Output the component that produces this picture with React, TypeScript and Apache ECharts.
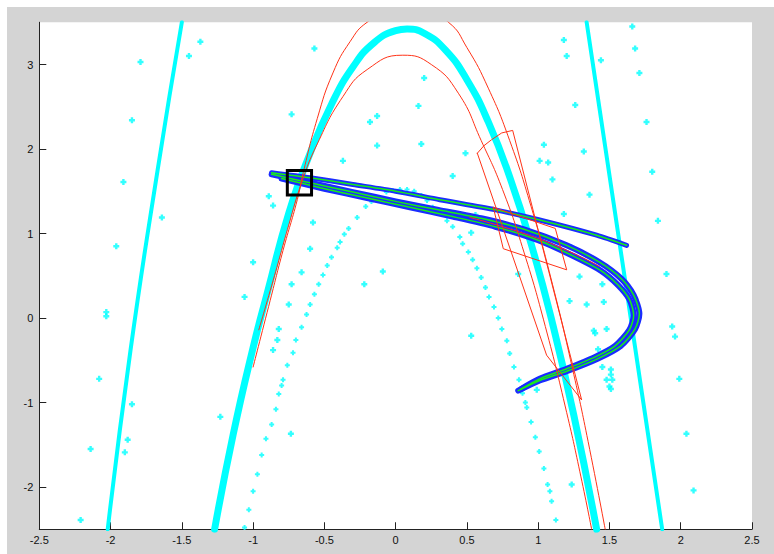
import React, { useEffect, useRef } from "react";
import * as echarts from "echarts";

// ---- data ----
const xTickValues = [-2.5, -2, -1.5, -1, -0.5, 0, 0.5, 1, 1.5, 2, 2.5];
const yTickValues = [-2, -1, 0, 1, 2, 3];

// thick cyan arch (dense '+' markers)
const cyanArchX = [-1.27, -1.14, -1.0, -0.9, -0.75, -0.6, -0.45, -0.3, -0.15, 0.0, 0.08, 0.2, 0.35, 0.5, 0.65, 0.8, 0.95, 1.1, 1.25, 1.41];
const cyanArchY = [-2.5, -1.38, -0.35, 0.3, 1.24, 1.95, 2.53, 2.97, 3.26, 3.4, 3.42, 3.37, 3.17, 2.82, 2.32, 1.67, 0.88, -0.06, -1.15, -2.5];

// red outer arch
const redOuterX = [-1.0, -0.88, -0.79, -0.69, -0.65, -0.55, -0.44, -0.32, -0.2, 0.085, 0.37, 0.5, 0.65, 0.8, 0.95, 1.1, 1.25, 1.35, 1.47];
const redOuterY = [-0.58, 0.21, 0.8, 1.4, 1.71, 2.36, 2.9, 3.27, 3.5, 3.77, 3.5, 3.2, 2.72, 2.1, 1.32, 0.4, -0.67, -1.46, -2.5];

// red inner arch
const redInnerX = [-0.96, -0.85, -0.75, -0.66, -0.55, -0.37, -0.2, 0.05, 0.25, 0.44, 0.6, 0.75, 0.9, 1.05, 1.2, 1.3, 1.375];
const redInnerY = [-0.14, 0.5, 1.1, 1.6, 2.06, 2.62, 2.94, 3.11, 3.0, 2.66, 2.1, 1.52, 0.78, -0.1, -1.12, -1.88, -2.5];

// cyan straight-ish marker lines
const leftLineX = [-2.02, -1.86, -1.67, -1.5];
const leftLineY = [-2.5, -0.38, 1.75, 3.5];
const rightLineX = [1.34, 1.87];
const rightLineY = [3.5, -2.5];

// sparse dotted cyan arch
const dotArcX = [-1.06, -1.03, -1.0, -0.97, -0.94, -0.91, -0.87, -0.84, -0.82, -0.8, -0.79, -0.76, -0.72, -0.7, -0.66, -0.625, -0.6, -0.57, -0.54, -0.51, -0.48, -0.45, -0.41, -0.39, -0.36, -0.33, -0.27, -0.21, -0.17, -0.12, -0.065, -0.02, 0.03, 0.08, 0.13, 0.18, 0.22, 0.26, 0.31, 0.36, 0.4, 0.45, 0.47, 0.51, 0.54, 0.57, 0.6, 0.63, 0.655, 0.69, 0.72, 0.745, 0.78, 0.8, 0.83, 0.865, 0.89, 0.91, 0.92, 0.95, 0.98, 1.007, 1.04, 1.066, 1.082, 1.094, 1.124];
const dotArcY = [-2.48, -2.27, -2.05, -1.85, -1.62, -1.43, -1.26, -1.08, -0.9, -0.8, -0.73, -0.56, -0.41, -0.26, -0.11, 0.04, 0.16, 0.28, 0.4, 0.51, 0.62, 0.72, 0.83, 0.9, 0.99, 1.06, 1.19, 1.32, 1.38, 1.42, 1.49, 1.51, 1.52, 1.52, 1.5, 1.45, 1.39, 1.31, 1.24, 1.15, 1.08, 0.96, 0.88, 0.78, 0.69, 0.59, 0.48, 0.36, 0.25, 0.13, 0.0, -0.13, -0.27, -0.42, -0.58, -0.73, -0.89, -1.0, -1.06, -1.23, -1.41, -1.58, -1.78, -1.97, -2.05, -2.17, -2.39];

// scattered cyan points
const scatterX = [-1.37, -1.45, -1.79, -1.85, -1.91, -1.64, -1.96, -2.03, -2.03, -2.08, -1.85, -1.88, -1.9, -2.14, -2.21, -1.23, -1.0, -1.06, -0.86, -0.89, -0.73, -0.57, -0.58, -0.6, -0.66, -0.73, -0.75, -0.82, -0.83, -0.86, -0.735, -0.09, -0.22, 0.2, 0.16, -0.13, -0.18, -0.13, 0.18, -0.37, 0.4, 0.49, 1.04, 1.32, 1.01, 1.07, 1.1, 1.36, 1.76, 1.8, 1.84, 1.18, 1.23, 0.86, 1.29, 1.45, 0.56, 0.53, 1.9, 1.22, 1.34, 1.46, 1.39, 1.4, 1.48, 0.53, 1.42, 1.45, 1.51, 1.51, 1.48, 1.52, 1.5, 1.51, 1.94, 1.96, 1.99, 0.99, 1.18, 1.2, 1.66, 1.68, 1.44, 1.71, 1.26, 1.235, 2.09, 2.04];
const scatterY = [3.27, 3.1, 3.03, 2.34, 1.61, 1.19, 0.85, 0.07, 0.02, -0.72, -1.02, -1.44, -1.59, -1.55, -2.39, -1.17, 0.66, 0.25, 1.33, 1.44, 2.41, 3.19, 1.13, 0.82, 0.54, 0.4, 0.16, -0.13, -0.26, -0.38, -1.37, 0.55, 0.4, 2.84, 2.51, 2.39, 2.32, 2.04, 2.06, 1.86, 1.68, 1.95, 2.05, 1.97, 1.86, 1.84, 1.64, 1.46, 2.32, 1.73, 1.15, 1.23, 0.84, 0.52, 0.49, 0.4, 1.22, 1.01, 0.52, 0.2, 0.16, 0.19, -0.15, -0.18, -0.13, -0.21, -0.37, -0.58, -0.61, -0.67, -0.73, -0.73, -0.81, -0.84, -0.1, -0.22, -0.72, -0.85, 3.29, 3.1, 3.45, 3.19, 3.05, 2.9, 2.52, -1.97, -2.04, -1.37];

// blue/green band strands
const bandUpperX = [-0.87, -0.6, -0.3, 0.0, 0.31, 0.7, 1.01, 1.41, 1.62];
const bandUpperY = [1.72, 1.66, 1.58, 1.5, 1.4, 1.28, 1.16, 0.98, 0.86];
const bandLowerAX = [-0.87, -0.6, -0.3, 0.0, 0.3, 0.6, 0.9, 1.2, 1.43, 1.58, 1.67, 1.71, 1.68, 1.58, 1.42, 1.2, 1.01, 0.86];
const bandLowerAY = [1.7, 1.6, 1.49, 1.38, 1.28, 1.18, 1.05, 0.86, 0.66, 0.47, 0.27, 0.05, -0.13, -0.33, -0.48, -0.63, -0.74, -0.86];
const bandLowerBX = [-0.8, -0.5, -0.2, 0.1, 0.4, 0.7, 1.0, 1.25, 1.44, 1.56, 1.64, 1.67, 1.64, 1.54, 1.4, 1.2, 1.01, 0.88];
const bandLowerBY = [1.65, 1.53, 1.42, 1.31, 1.2, 1.08, 0.92, 0.73, 0.56, 0.39, 0.22, 0.03, -0.14, -0.33, -0.46, -0.6, -0.72, -0.84];

// thin red line inside the lower band
const redBandX = [0.52, 0.9, 1.2, 1.43];
const redBandY = [1.19, 1.0, 0.8, 0.61];

// red polygons
const polyAX = [0.573, 0.62, 0.673, 0.744, 0.821, 1.305, 1.059, 0.573];
const polyAY = [1.95, 2.04, 2.11, 2.19, 2.22, -0.97, -0.44, 1.95];
const polyBX = [0.685, 1.12, 1.2, 0.755, 0.685];
const polyBY = [1.31, 1.06, 0.57, 0.82, 1.31];

// black square
const boxX = [-0.76, -0.59, -0.59, -0.76, -0.76];
const boxY = [1.455, 1.455, 1.745, 1.745, 1.455];

const zip = (xs: number[], ys: number[]) => xs.map((x, i) => [x, ys[i]]);

const CYAN = "#00ffff";
const RED = "#ff3318";
const BLUE = "#1a2cff";
const GREEN = "#18ee18";
const PLUS = "path://M0.3,0H0.7V0.3H1V0.7H0.7V1H0.3V0.7H0V0.3H0.3Z";
const FONT = "'Liberation Sans', Arial, sans-serif";

function lineSeries(data: number[][], color: string, width: number, smooth: boolean | number, z: number) {
  return {
    type: "line",
    data,
    showSymbol: false,
    symbol: "none",
    smooth,
    z,
    silent: true,
    lineStyle: { color, width, cap: "round", join: "round" },
  };
}

export default function App() {
  const ref = useRef<HTMLDivElement>(null);
  useEffect(() => {
    if (!ref.current) return;
    const chart = echarts.init(ref.current, undefined, { renderer: "svg" });
    chart.setOption({
      animation: false,
      backgroundColor: "#d4d4d4",
      grid: {
        left: 32.3,
        top: 15.25,
        right: 22,
        bottom: 24.75,
        show: true,
        backgroundColor: "#ffffff",
        borderWidth: 0,
      },
      xAxis: {
        type: "value",
        min: -2.5,
        max: 2.5,
        interval: 0.5,
        axisLine: { show: true, onZero: false, lineStyle: { color: "#222", width: 1 } },
        axisTick: { show: true, inside: true, length: 7, lineStyle: { color: "#222" } },
        axisLabel: {
          show: true,
          fontSize: 11,
          fontFamily: FONT,
          color: "#111",
          margin: 5,
          showMinLabel: true,
          showMaxLabel: true,
          hideOverlap: false,
          customValues: xTickValues,
        },
        splitLine: { show: false },
      },
      yAxis: {
        type: "value",
        min: -2.5,
        max: 3.5,
        axisLine: { show: true, onZero: false, lineStyle: { color: "#222", width: 1 } },
        axisTick: { show: true, inside: true, length: 7, lineStyle: { color: "#222" }, customValues: yTickValues },
        axisLabel: {
          show: true,
          fontSize: 11,
          fontFamily: FONT,
          color: "#111",
          margin: 6,
          customValues: yTickValues,
        },
        splitLine: { show: false },
      },
      series: [
        lineSeries(zip(leftLineX, leftLineY), CYAN, 4, true, 1),
        lineSeries(zip(rightLineX, rightLineY), CYAN, 4, false, 1),
        {
          type: "scatter",
          data: zip(scatterX, scatterY),
          symbol: PLUS,
          symbolSize: 6,
          itemStyle: { color: CYAN },
          z: 2,
          silent: true,
        },
        {
          type: "scatter",
          data: zip(dotArcX, dotArcY),
          symbol: PLUS,
          symbolSize: 5,
          itemStyle: { color: CYAN },
          z: 2,
          silent: true,
        },
        lineSeries(zip(cyanArchX, cyanArchY), CYAN, 7, true, 3),
        lineSeries(zip(bandLowerBX, bandLowerBY), BLUE, 6, 0.25, 4),
        lineSeries(zip(bandLowerAX, bandLowerAY), BLUE, 6, 0.25, 4),
        lineSeries(zip(bandUpperX, bandUpperY), BLUE, 5, 0.25, 4),
        lineSeries(zip(bandLowerBX, bandLowerBY), GREEN, 1.5, 0.25, 5),
        lineSeries(zip(bandLowerAX, bandLowerAY), GREEN, 1.5, 0.25, 5),
        lineSeries(zip(bandUpperX, bandUpperY), GREEN, 1.5, 0.25, 5),
        lineSeries(zip(redOuterX, redOuterY), RED, 1, true, 6),
        lineSeries(zip(redInnerX, redInnerY), RED, 1, true, 6),
        lineSeries(zip(redBandX, redBandY), RED, 1, true, 6),
        lineSeries(zip(polyAX, polyAY), RED, 1, false, 6),
        lineSeries(zip(polyBX, polyBY), RED, 1, false, 6),
        { ...lineSeries(zip(boxX, boxY), "#000000", 3, false, 7), lineStyle: { color: "#000", width: 3, cap: "square", join: "miter" } },
      ],
    });
    return () => chart.dispose();
  }, []);

  return (
    <div style={{ position: "fixed", left: 0, top: 0, width: 774, height: 554, background: "#ffffff", overflow: "hidden" }}>
      <div ref={ref} style={{ position: "absolute", left: 7, top: 7, width: 767, height: 547 }} />
    </div>
  );
}
